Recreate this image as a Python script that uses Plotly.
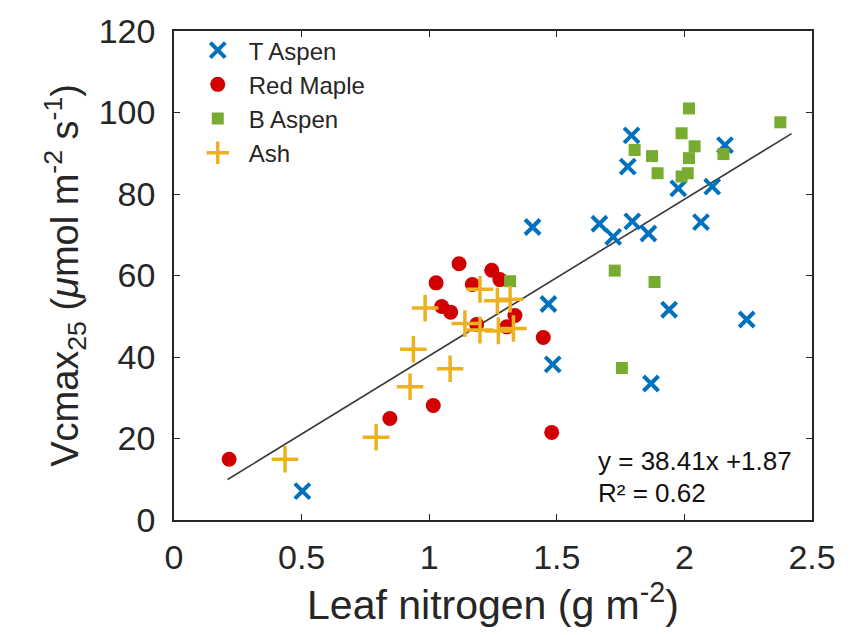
import plotly.graph_objects as go

# Leaf nitrogen (g m-2) and Vcmax25 (umol m-2 s-1) by species
t_aspen_n = [1.793, 1.778, 2.159, 1.976, 2.109, 1.405, 1.667, 1.721, 1.796, 1.859,
             2.065, 1.467, 1.940, 2.244, 1.484, 1.869, 0.503]
t_aspen_v = [94.4, 86.7, 92.0, 81.4, 81.8, 71.9, 72.7, 69.5, 73.3, 70.3,
             73.1, 53.0, 51.6, 49.2, 38.2, 33.5, 7.1]

red_maple_n = [0.216, 0.846, 1.016, 1.027, 1.049, 1.084, 1.117, 1.169, 1.186, 1.245,
               1.277, 1.304, 1.336, 1.447, 1.480]
red_maple_v = [14.9, 24.9, 28.1, 58.2, 52.4, 51.0, 62.9, 57.8, 48.0, 61.3,
               59.0, 47.4, 50.2, 44.8, 21.5]

b_aspen_n = [2.018, 2.376, 1.989, 2.040, 1.805, 1.873, 2.018, 2.153, 1.895, 1.989,
             2.013, 1.727, 1.317, 1.883, 1.755]
b_aspen_v = [101.0, 97.6, 94.9, 91.7, 90.8, 89.3, 88.8, 89.8, 85.1, 84.3,
             85.1, 61.2, 58.6, 58.4, 37.3]

ash_n = [0.435, 0.792, 0.925, 0.938, 0.984, 1.082, 1.140, 1.199, 1.199, 1.267,
         1.317, 1.271, 1.330]
ash_v = [14.9, 20.3, 32.7, 41.9, 52.0, 37.1, 48.2, 56.6, 46.6, 53.8,
         54.2, 46.4, 47.0]

# Linear fit across all species
slope = 38.41
intercept = 1.87
r2 = 0.62
fit_x = [0.21, 2.42]
fit_y = [slope * x + intercept for x in fit_x]

x_ticks = [0, 0.5, 1, 1.5, 2, 2.5]
x_tick_text = ["0", "0.5", "1", "1.5", "2", "2.5"]
y_ticks = [0, 20, 40, 60, 80, 100, 120]

FONT = "Liberation Sans, Arial, sans-serif"
AXIS_COLOR = "#262626"
TEXT_COLOR = "#262626"

fig = go.Figure()

fig.add_trace(go.Scatter(
    x=fit_x, y=fit_y, mode="lines", showlegend=False, hoverinfo="skip",
    line=dict(color="#3a3a3a", width=1.6),
))
fig.add_trace(go.Scatter(
    x=t_aspen_n, y=t_aspen_v, mode="markers", name="T Aspen", legendgroup="a",
    marker=dict(symbol="x-thin", size=15, color="#0072BD",
                line=dict(color="#0072BD", width=4)),
))
fig.add_trace(go.Scatter(
    x=red_maple_n, y=red_maple_v, mode="markers", name="Red Maple", legendgroup="b",
    marker=dict(symbol="circle", size=15, color="#D00000",
                line=dict(width=0)),
))
fig.add_trace(go.Scatter(
    x=b_aspen_n, y=b_aspen_v, mode="markers", name="B Aspen", legendgroup="c",
    marker=dict(symbol="square", size=12, color="#77AC30",
                line=dict(width=0)),
))
fig.add_trace(go.Scatter(
    x=ash_n, y=ash_v, mode="markers", name="Ash", legendgroup="d",
    marker=dict(symbol="cross-thin", size=19, color="#EDB120",
                line=dict(color="#EDB120", width=3.5)),
))

fig.add_annotation(
    x=0.662, y=0.12, xref="paper", yref="paper", xanchor="left", yanchor="middle",
    text=f"y = {slope}x +{intercept}", showarrow=False,
    font=dict(family=FONT, size=26, color="#111111"),
)
fig.add_annotation(
    x=0.662, y=0.056, xref="paper", yref="paper", xanchor="left", yanchor="middle",
    text=f"R² = {r2}", showarrow=False,
    font=dict(family=FONT, size=26, color="#111111"),
)

axis_common = dict(
    showline=True, linecolor=AXIS_COLOR, linewidth=1.5, mirror="ticks",
    ticks="inside", ticklen=6, tickwidth=1.2, tickcolor=AXIS_COLOR,
    showgrid=False, zeroline=False,
    tickfont=dict(family=FONT, size=34, color=TEXT_COLOR),
)

fig.update_layout(
    width=855, height=635,
    margin=dict(l=174, r=43, t=22, b=115),
    paper_bgcolor="white", plot_bgcolor="white",
    font=dict(family=FONT, color=TEXT_COLOR),
    xaxis=dict(
        range=[0, 2.5], tickvals=x_ticks, ticktext=x_tick_text,
        ticklabelstandoff=6,
        title=dict(text="Leaf nitrogen (g m<sup>-2</sup>)",
                   font=dict(family=FONT, size=41, color=TEXT_COLOR), standoff=8),
        **axis_common,
    ),
    yaxis=dict(
        range=[0, 120], tickvals=y_ticks, ticklabelstandoff=10,
        title=dict(text="Vcmax<sub>25</sub> (<i>μ</i>mol m<sup>-2</sup> s<sup>-1</sup>)",
                   font=dict(family=FONT, size=38, color=TEXT_COLOR), standoff=8),
        **axis_common,
    ),
    legend=dict(
        x=0.02, y=1.006, xanchor="left", yanchor="top",
        bgcolor="rgba(0,0,0,0)", borderwidth=0,
        font=dict(family=FONT, size=24, color=TEXT_COLOR),
        tracegroupgap=0, itemwidth=52,
    ),
)

fig.write_html("out.html")
